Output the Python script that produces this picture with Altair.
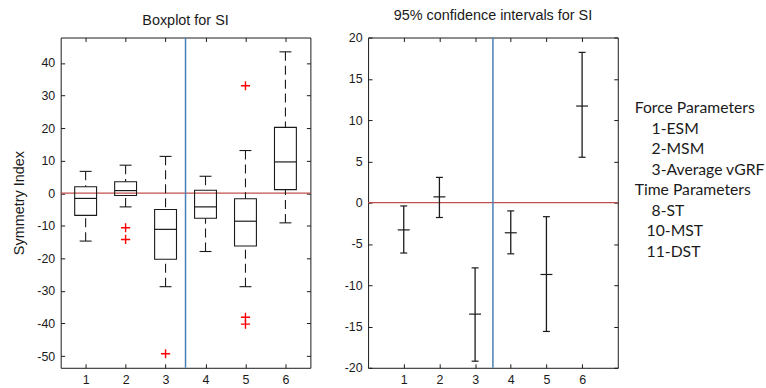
import altair as alt
import pandas as pd

# ---------------- data ----------------
cats = [1, 2, 3, 4, 5, 6]
tick_labels = [1, 2, 3, 4, 5, 6]

box_low = [-14.7, -4.2, -28.7, -17.9, -28.7, -9.1]
box_q1 = [-6.8, -0.7, -20.3, -7.7, -16.2, 1.1]
box_med = [-1.6, 0.8, -11.1, -4.2, -8.6, 9.6]
box_q3 = [2.0, 3.5, -5.0, 0.9, -1.7, 20.2]
box_high = [6.7, 8.6, 11.3, 5.2, 13.1, 43.4]

out_cat = [2, 2, 3, 5, 5, 5]
out_val = [-10.6, -14.2, -49.3, 33.0, -38.1, -40.2]

ci_mean = [-3.3, 0.7, -13.5, -3.65, -8.7, 11.7]
ci_low = [-6.1, -1.8, -19.2, -6.2, -15.6, 5.5]
ci_high = [-0.4, 3.06, -7.9, -1.0, -1.7, 18.2]

zero_level = [0.0]
split_at = [3.5]

left_yticks = [-50, -40, -30, -20, -10, 0, 10, 20, 30, 40]
right_yticks = [-20, -15, -10, -5, 0, 5, 10, 15, 20]

legend_lines = ["Force Parameters", "1-ESM", "2-MSM", "3-Average vGRF",
                "Time Parameters", "8-ST", "10-MST", "11-DST"]
legend_level = [0, 1, 1, 1, 0, 1, 2, 2]
legend_row = [0, 1, 2, 3, 4, 5, 6, 7]

# ---------------- tables ----------------
box_df = pd.DataFrame({"cat": cats, "low": box_low, "q1": box_q1, "med": box_med,
                       "q3": box_q3, "high": box_high})
out_df = pd.DataFrame({"cat": out_cat, "val": out_val})
ci_df = pd.DataFrame({"cat": cats, "mean": ci_mean, "low": ci_low, "high": ci_high})
ref_df = pd.DataFrame({"zero": zero_level, "split": split_at})
leg_df = pd.DataFrame({"text": legend_lines, "level": legend_level, "row": legend_row})

FONT = "Liberation Sans"
INK = "#1a1a1a"
RED = "#c0504d"
BLUE = "#4a7fb5"
PLUS = "M-1,0L1,0M0,-1L0,1"


def ax(orient, values, labels=True, title=None):
    kw = dict(orient=orient, values=values, labels=labels, tickSize=4, offset=-4,
              domain=False, grid=False, tickColor=INK, tickWidth=1,
              labelFont=FONT, labelFontSize=12.5, labelColor=INK, labelPadding=6,
              labelFlush=False, labelExpr="'' + datum.value")
    if title:
        kw.update(title=title, titleFont=FONT, titleFontSize=14.5,
                  titleFontWeight="normal", titleColor=INK, titlePadding=10)
    else:
        kw["title"] = None
    return alt.Axis(**kw)


def ttl(text):
    return alt.TitleParams(text, font=FONT, fontSize=14.5, fontWeight="normal",
                           color=INK, anchor="middle", offset=-6, baseline="bottom")


# ---------------- left panel: boxplot ----------------
xs_l = alt.Scale(domain=[0.5, 6.5], nice=False, zero=False)
ys_l = alt.Scale(domain=[-53.6, 47.8], nice=False, zero=False)

zero_l = alt.Chart(ref_df).mark_rule(color=RED, strokeWidth=1.3).encode(
    y=alt.Y("zero:Q", scale=ys_l, axis=None))
split_l = alt.Chart(ref_df).mark_rule(color=BLUE, strokeWidth=1.5).encode(
    x=alt.X("split:Q", scale=xs_l, axis=None))

bx = alt.Chart(box_df)
boxes = bx.mark_bar(size=22, filled=False, color=INK, strokeWidth=1.1).encode(
    x=alt.X("cat:Q", scale=xs_l, axis=ax("bottom", tick_labels)),
    y=alt.Y("q1:Q", scale=ys_l, axis=ax("left", left_yticks, title="Symmetry Index")),
    y2="q3:Q")
medians = bx.mark_tick(orient="horizontal", size=22, thickness=1.2, color=INK, opacity=1).encode(
    x=alt.X("cat:Q", scale=xs_l, axis=ax("top", tick_labels, labels=False)),
    y=alt.Y("med:Q", scale=ys_l, axis=ax("right", left_yticks, labels=False)))
wh_up = bx.mark_rule(color=INK, strokeWidth=1.1, strokeDash=[9, 5]).encode(
    x=alt.X("cat:Q", scale=xs_l, axis=None),
    y=alt.Y("high:Q", scale=ys_l, axis=None), y2="q3:Q")
wh_dn = bx.mark_rule(color=INK, strokeWidth=1.1, strokeDash=[9, 5]).encode(
    x=alt.X("cat:Q", scale=xs_l, axis=None),
    y=alt.Y("low:Q", scale=ys_l, axis=None), y2="q1:Q")
cap_up = bx.mark_tick(orient="horizontal", size=12, thickness=1.1, color=INK, opacity=1).encode(
    x=alt.X("cat:Q", scale=xs_l, axis=None), y=alt.Y("high:Q", scale=ys_l, axis=None))
cap_dn = bx.mark_tick(orient="horizontal", size=12, thickness=1.1, color=INK, opacity=1).encode(
    x=alt.X("cat:Q", scale=xs_l, axis=None), y=alt.Y("low:Q", scale=ys_l, axis=None))
outl = alt.Chart(out_df).mark_point(shape=PLUS, size=85, color="#ff0000", filled=False,
                                    strokeWidth=1.4, opacity=1).encode(
    x=alt.X("cat:Q", scale=xs_l, axis=None), y=alt.Y("val:Q", scale=ys_l, axis=None))

left = alt.layer(zero_l, split_l, boxes, medians, wh_up, wh_dn, cap_up, cap_dn, outl).resolve_axis(
    x="independent", y="independent").properties(width=251, height=332, title=ttl("Boxplot for SI"))

# ---------------- right panel: confidence intervals ----------------
xs_r = alt.Scale(domain=[0, 7], nice=False, zero=False)
ys_r = alt.Scale(domain=[-20, 20], nice=False, zero=False)

zero_r = alt.Chart(ref_df).mark_rule(color=RED, strokeWidth=1.3).encode(
    y=alt.Y("zero:Q", scale=ys_r, axis=None))
split_r = alt.Chart(ref_df).mark_rule(color=BLUE, strokeWidth=1.5).encode(
    x=alt.X("split:Q", scale=xs_r, axis=None))
cb = alt.Chart(ci_df)
bars = cb.mark_rule(color=INK, strokeWidth=1.3).encode(
    x=alt.X("cat:Q", scale=xs_r, axis=ax("bottom", tick_labels)),
    y=alt.Y("low:Q", scale=ys_r, axis=ax("left", right_yticks)), y2="high:Q")
ccap_up = cb.mark_tick(orient="horizontal", size=7, thickness=1.2, color=INK, opacity=1).encode(
    x=alt.X("cat:Q", scale=xs_r, axis=None), y=alt.Y("high:Q", scale=ys_r, axis=None))
ccap_dn = cb.mark_tick(orient="horizontal", size=7, thickness=1.2, color=INK, opacity=1).encode(
    x=alt.X("cat:Q", scale=xs_r, axis=None), y=alt.Y("low:Q", scale=ys_r, axis=None))
means = cb.mark_tick(orient="horizontal", size=12, thickness=1.2, color=INK, opacity=1).encode(
    x=alt.X("cat:Q", scale=xs_r, axis=ax("top", tick_labels, labels=False)),
    y=alt.Y("mean:Q", scale=ys_r, axis=ax("right", right_yticks, labels=False)))

right = alt.layer(zero_r, split_r, bars, ccap_up, ccap_dn, means).resolve_axis(
    x="independent", y="independent").properties(
    width=251, height=332, title=ttl("95% confidence intervals for SI"))

# ---------------- legend text ----------------
lb = alt.Chart(leg_df).encode(
    x=alt.value(0),
    y=alt.Y("row:Q", scale=alt.Scale(domain=[-3.461, 12.656], reverse=True, nice=False, zero=False),
            axis=None),
    text="text:N")
lstyle = dict(align="left", baseline="middle", font="Lato", fontSize=15.8, color=INK)
heads = lb.transform_filter("datum.level == 0").mark_text(**lstyle)
items1 = lb.transform_filter("datum.level == 1").mark_text(dx=17, **lstyle)
items2 = lb.transform_filter("datum.level == 2").mark_text(dx=12, **lstyle)
legend = alt.layer(heads, items1, items2).properties(
    width=120, height=332, view=alt.ViewBackground(stroke="transparent"))

chart = alt.hconcat(alt.hconcat(left, right, spacing=31), legend, spacing=14).properties(
    padding={"left": 11, "top": 6.7, "right": 0, "bottom": 0},
    background="white").configure_view(stroke=INK, strokeWidth=1)

chart.save("out.html", embed_options={"renderer": "svg", "actions": False})
